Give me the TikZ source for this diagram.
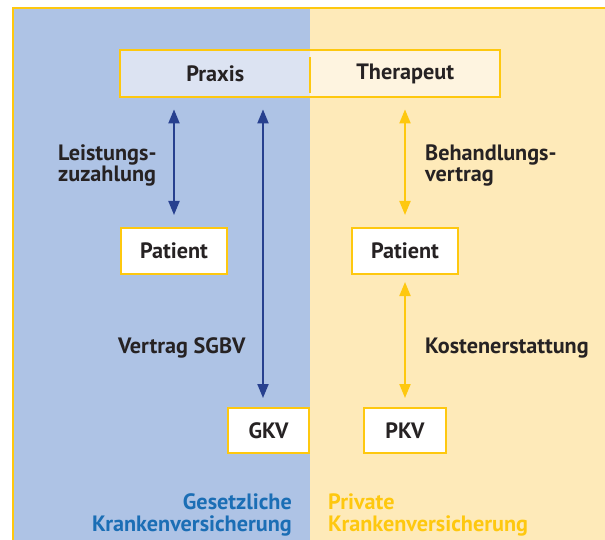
\documentclass[tikz,border=0pt]{standalone}
\usepackage{fontspec}
\setmainfont{PT Sans}
\usetikzlibrary{arrows.meta,fit}
\definecolor{bgblue}{HTML}{AEC3E5}
\definecolor{bgcream}{HTML}{FEEAB9}
\definecolor{ylw}{HTML}{FEC80F}
\definecolor{dkblue}{HTML}{27408F}
\definecolor{txtblue}{HTML}{1B6EB5}
\definecolor{lblue}{HTML}{DCE3F2}
\definecolor{lcream}{HTML}{FEF4E0}
\definecolor{ink}{HTML}{262223}
\tikzset{
  lbl/.style={font=\fontsize{22.2}{23}\selectfont\bfseries, text=ink, inner sep=0pt},
  boxnode/.style={lbl, draw=ylw, line width=2pt, fill=white, inner sep=0pt},
  arrB/.style={draw=dkblue, line width=2pt, {Triangle[length=14pt,width=11pt]}-{Triangle[length=14pt,width=11pt]}},
  arrY/.style={draw=ylw, line width=2pt, {Triangle[length=14pt,width=11pt]}-{Triangle[length=14pt,width=11pt]}},
}
\begin{document}
\begin{tikzpicture}[x=1pt,y=-1pt]
\useasboundingbox (0,0) rectangle (605,540);
\clip (0,0) rectangle (605,540);
% backgrounds
\fill[white] (0,0) rectangle (605,540);
\fill[bgblue] (12,8) rectangle (310,560);
\fill[bgcream] (310,8) rectangle (640,560);
\draw[ylw, line width=2pt] (12.5,560) -- (12.5,8.5) -- (640,8.5);
% top box
\node[lbl, fill=lblue, minimum width=190pt, minimum height=47pt, anchor=north west] (praxis) at (120,50) {Praxis};
\node[lbl, fill=lcream, minimum width=190pt, minimum height=47pt, anchor=north west] (therapeut) at (310,50) {Therapeut};
\node[fit=(praxis)(therapeut), draw=ylw, line width=2pt, inner sep=0pt] (top) {};
\draw[ylw, line width=1.3pt] (310,57) -- (310,93);
% boxes
\node[boxnode, minimum width=106pt, minimum height=46pt] (pL) at (174,251) {Patient};
\node[boxnode, minimum width=106pt, minimum height=46pt] (pR) at (405,251) {Patient};
\node[boxnode, minimum width=81pt, minimum height=45pt] (gkv) at (268.5,430.5) {GKV};
\node[boxnode, minimum width=82pt, minimum height=45pt] (pkv) at (405,430.5) {PKV};
\coordinate (lx) at (263,0);
% arrows
\draw[arrB, shorten <=11pt, shorten >=12pt] (top.south -| pL) -- (pL.north);
\draw[arrB, shorten <=11pt, shorten >=9pt] (top.south -| lx) -- (gkv.north -| lx);
\draw[arrY, shorten <=11pt, shorten >=12pt] (top.south -| pR) -- (pR.north);
\draw[arrY, shorten <=7pt, shorten >=9pt] (pR.south) -- (pkv.north);
% labels
\node[lbl, anchor=base west] (l1) at (58,161) {Leistungs-};
\node[lbl, anchor=base west] (l2) at (58,182) {zuzahlung};
\node[lbl, anchor=base west] (r1) at (425,161) {Behandlungs-};
\node[lbl, anchor=base west] (r2) at (425,182) {vertrag};
\node[lbl, anchor=base west] (vs) at (118,353) {Vertrag SGBV};
\node[lbl, anchor=base west] (ke) at (425,353) {Kostenerstattung};
\node[lbl, text=txtblue, anchor=base east] (g1) at (292,509) {Gesetzliche};
\node[lbl, text=txtblue, anchor=base east] (g2) at (292,531) {Krankenversicherung};
\node[lbl, text=ylw, anchor=base west] (p1) at (328,509) {Private};
\node[lbl, text=ylw, anchor=base west] (p2) at (328,531) {Krankenversicherung};
\end{tikzpicture}
\end{document}
